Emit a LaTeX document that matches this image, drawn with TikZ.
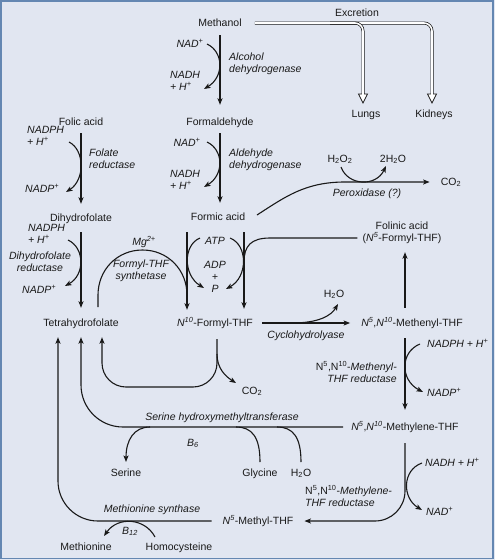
\documentclass[tikz,border=0pt]{standalone}
\usepackage{fontspec}
\setmainfont{Liberation Sans}
\usetikzlibrary{arrows.meta}
\definecolor{bgc}{RGB}{225,230,241}
\definecolor{frm}{RGB}{100,135,178}
\definecolor{ink}{RGB}{25,25,25}
\newcommand\fsz{\fontsize{10.5}{12}\selectfont}
\begin{document}
\begin{tikzpicture}[x=1pt,y=-1pt,
  lbl/.style={inner sep=1pt, text height=8pt, text depth=2pt, font=\fsz, text=ink},
  enz/.style={lbl, font=\fsz\itshape},
  ln/.style={draw=ink, line width=1.1pt},
  arr/.style={ln, -{Stealth[length=6.5pt,width=5pt,inset=1.5pt]}},
  dbl/.style={draw=ink, line width=0.7pt, double=white, double distance=1.6pt, rounded corners=8pt},
  tipo/.style={draw=ink, fill=white, line width=0.7pt}]
\useasboundingbox (0,0) rectangle (495,560);
\fill[bgc] (0,0) rectangle (495,560);
\draw[frm, line width=1.5pt] (1,1) rectangle (493,558.5);

% column coordinates
\coordinate (cA) at (187,0);
\coordinate (cB) at (244,0);
\coordinate (cR) at (405,0);
\coordinate (cT1) at (58,0);
\coordinate (cT2) at (81,0);
\coordinate (cT3) at (102,0);
\coordinate (cN) at (217,0);
\coordinate (lb) at (0,387);

% compounds
\node[lbl] (meth) at (220,23) {Methanol};
\node[lbl] (form) at (220,122) {Formaldehyde};
\node[lbl] (fa) at (218,217) {Formic acid};
\node[lbl] (fol) at (81,122) {Folic acid};
\node[lbl] (dhf) at (81,218) {Dihydrofolate};
\node[lbl] (thf) at (81,323) {Tetrahydrofolate};
\node[lbl] (n10) at (215,323) {\textit{N}\textsuperscript{\itshape 10}-Formyl-THF};
\node[lbl, align=center] (folin) at (402,238) {Folinic acid\\(\textit{N}\textsuperscript{\itshape 5}-Formyl-THF)};
\node[lbl] (menyl) at (412,323) {\textit{N}\textsuperscript{\itshape 5},\textit{N}\textsuperscript{\itshape 10}-Methenyl-THF};
\node[lbl] (mlene) at (405,427) {\textit{N}\textsuperscript{\itshape 5},\textit{N}\textsuperscript{\itshape 10}-Methylene-THF};
\node[lbl] (mthf) at (258,521) {\textit{N}\textsuperscript{\itshape 5}-Methyl-THF};
\node[lbl] (ser) at (126,473) {Serine};
\node[lbl] (gly) at (260,473) {Glycine};
\node[lbl] (h2oa) at (301,473) {H\textsubscript{2}O};
\node[lbl] (met) at (86,547) {Methionine};
\node[lbl] (hcy) at (179,547) {Homocysteine};
\node[lbl] (excr) at (357,13) {Excretion};
\node[lbl] (lungs) at (366,114) {Lungs};
\node[lbl] (kid) at (434,114) {Kidneys};
\node[lbl] (h2o2) at (340,159) {H\textsubscript{2}O\textsubscript{2}};
\node[lbl] (h2ob) at (393,159) {2H\textsubscript{2}O};
\node[lbl] (co2a) at (451,182) {CO\textsubscript{2}};
\node[lbl] (h2oc) at (334,294) {H\textsubscript{2}O};
\node[lbl] (co2b) at (252,391) {CO\textsubscript{2}};

% enzymes and cofactors
\node[enz] (nadA) at (190,44) {NAD\textsuperscript{+}};
\node[enz, anchor=west, align=left] (nadhA) at (169,87.5) {NADH\\+ H\textsuperscript{+}};
\node[enz, anchor=west, align=left] (adh) at (228,69.5) {Alcohol\\dehydrogenase};
\node[enz] (nadB) at (187,143) {NAD\textsuperscript{+}};
\node[enz, anchor=west, align=left] (nadhB) at (169,186) {NADH\\+ H\textsuperscript{+}};
\node[enz, anchor=west, align=left] (aldh) at (228,165) {Aldehyde\\dehydrogenase};
\node[enz, anchor=west, align=left] (nadphA) at (26,142.5) {NADPH\\+ H\textsuperscript{+}};
\node[enz, anchor=west, align=left] (folr) at (88,165) {Folate\\reductase};
\node[enz, anchor=west] (nadpA) at (24,189) {NADP\textsuperscript{+}};
\node[enz, anchor=west, align=left] (nadphB) at (27,240.5) {NADPH\\+ H\textsuperscript{+}};
\node[enz, align=center] (dhfr) at (40,268) {Dihydrofolate\\reductase};
\node[enz, anchor=west] (nadpB) at (21,290) {NADP\textsuperscript{+}};
\node[enz] (mg) at (144,242) {Mg\textsuperscript{2+}};
\node[enz, align=center] (fts) at (141,276) {Formyl-THF\\synthetase};
\node[enz] (atp) at (215,241) {ATP};
\node[enz, align=center] (adp) at (215,289) {ADP\\+\\P};
\node[enz] (perox) at (367,193) {Peroxidase (?)};
\node[enz] (cyc) at (306,335) {Cyclohydrolyase};
\node[enz, anchor=west] (nadphC) at (426,344) {NADPH + H\textsuperscript{+}};
\node[lbl, anchor=east, align=right] (mtr1) at (398,379) {N\textsuperscript{5},N\textsuperscript{10}-\textit{Methenyl-}\\\textit{THF reductase}};
\node[enz, anchor=west] (nadpC) at (426,393) {NADP\textsuperscript{+}};
\node[enz] (shmt) at (222,417) {Serine hydroxymethyltransferase};
\node[enz] (b6) at (193,443) {B\textsubscript{6}};
\node[enz, anchor=west] (nadhC) at (424,463) {NADH + H\textsuperscript{+}};
\node[lbl, anchor=west, align=left] (mtr2) at (304,503.5) {N\textsuperscript{5},N\textsuperscript{10}-\textit{Methylene-}\\\textit{THF reductase}};
\node[enz, anchor=west] (nadC) at (425,512) {NAD\textsuperscript{+}};
\node[enz] (ms) at (152,509) {Methionine synthase};
\node[enz] (b12) at (130,531) {B\textsubscript{12}};

% excretion (double lines)
\draw[dbl] ([xshift=12pt]meth.east) -- (432,23) -- (432,94.5);
\draw[dbl] (330,23) -- (363,23) -- (363,94.5);
\filldraw[tipo] (361.85,94) -- (358.5,94) -- (363,103) -- (367.5,94) -- (364.15,94);
\filldraw[tipo] (430.85,94) -- (427.5,94) -- (432,103) -- (436.5,94) -- (433.15,94);

% main vertical arrows
\draw[arr, shorten <=6pt, shorten >=11pt] (meth) -- (form);
\draw[arr, shorten <=5pt, shorten >=8pt] (form.south) -- (form.south |- fa.north);
\draw[arr, shorten <=5pt, shorten >=8pt] (fol) -- (dhf);
\draw[arr, shorten <=8pt, shorten >=9pt] (dhf) -- (thf);
\draw[arr, shorten <=9pt, shorten >=7pt] (fa.south -| cA) -- (n10.north -| cA);
\draw[arr, shorten <=9pt, shorten >=8pt] (fa.south -| cB) -- (n10.north -| cB);
\draw[arr, shorten <=9pt, shorten >=8pt] (menyl.north -| cR) -- (folin.south -| cR);
\draw[arr, shorten <=9pt, shorten >=11pt] (menyl.south -| cR) -- (mlene.north -| cR);
\draw[arr, rounded corners=30pt, shorten <=10pt, shorten >=10pt] (mlene.south -| cR) -- (cR |- mthf) -- (mthf.east);

% folinic acid to N10-formyl-THF
\draw[ln, shorten <=4pt] (folin.west) -- (270,238) .. controls (251,238) and (244,246) .. (244,262);

% cofactor curves
\draw[arr] (207,44) .. controls (224,52) and (224,77) .. (204,89);
\draw[arr] (207,142) .. controls (224,150) and (224,175) .. (204,187);
\draw[arr] (69,142) .. controls (85,150) and (85,180) .. (66,192);
\draw[arr] (68,240) .. controls (85,248) and (85,275) .. (65,286);
\draw[arr] (200,238) .. controls (183,245) and (183,275) .. (204,288);
\draw[arr] (230,238) .. controls (248,245) and (248,277) .. (226,289);
\draw[arr] (420,344) .. controls (400,352) and (400,380) .. (423,392);
\draw[arr] (422,463) .. controls (402,470) and (402,498) .. (422,510);

% peroxidase
\draw[arr, shorten >=10pt] (257,215) .. controls (285,197) and (305,182) .. (345,182) -- (co2a.west);
\draw[arr] (341,167) .. controls (348,186) and (376,187) .. (386,166);

% formyl-THF synthetase arch
\draw[ln] (98,307) -- (98,295) .. controls (98,270) and (117,250) .. (142.5,250) .. controls (168,250) and (187,270) .. (187,295);

% cyclohydrolyase
\draw[arr, shorten <=8pt, shorten >=10pt] (n10.east) -- (menyl.west);
\draw[arr] (292,323) .. controls (318,323) and (331,316) .. (338,304);

% N10-formyl-THF loop and CO2
\draw[arr, rounded corners=24pt, shorten <=10pt, shorten >=8pt] (n10.south -| cN) -- (cN |- lb) -- (cT3 |- lb) -- (thf.south -| cT3);
\draw[arr] (217,354) .. controls (217,368) and (225,376) .. (236,383);

% serine hydroxymethyltransferase
\draw[arr, rounded corners=42pt, shorten <=7pt, shorten >=8pt] (mlene.west) -- (cT2 |- mlene.west) -- (thf.south -| cT2);
\draw[arr] (150,427) .. controls (134,427) and (126,440) .. (126,462);
\draw[ln] (236,427) .. controls (252,427) and (260,437) .. (260,462);
\draw[ln] (277,427) .. controls (293,427) and (301,437) .. (301,462);

% methionine synthase
\draw[arr, rounded corners=40pt, shorten <=10pt, shorten >=8pt] (mthf.west) -- (cT1 |- mthf.west) -- (thf.south -| cT1);
\draw[arr] (155,537) .. controls (145,518) and (118,516) .. (104,536);
\end{tikzpicture}
\end{document}
